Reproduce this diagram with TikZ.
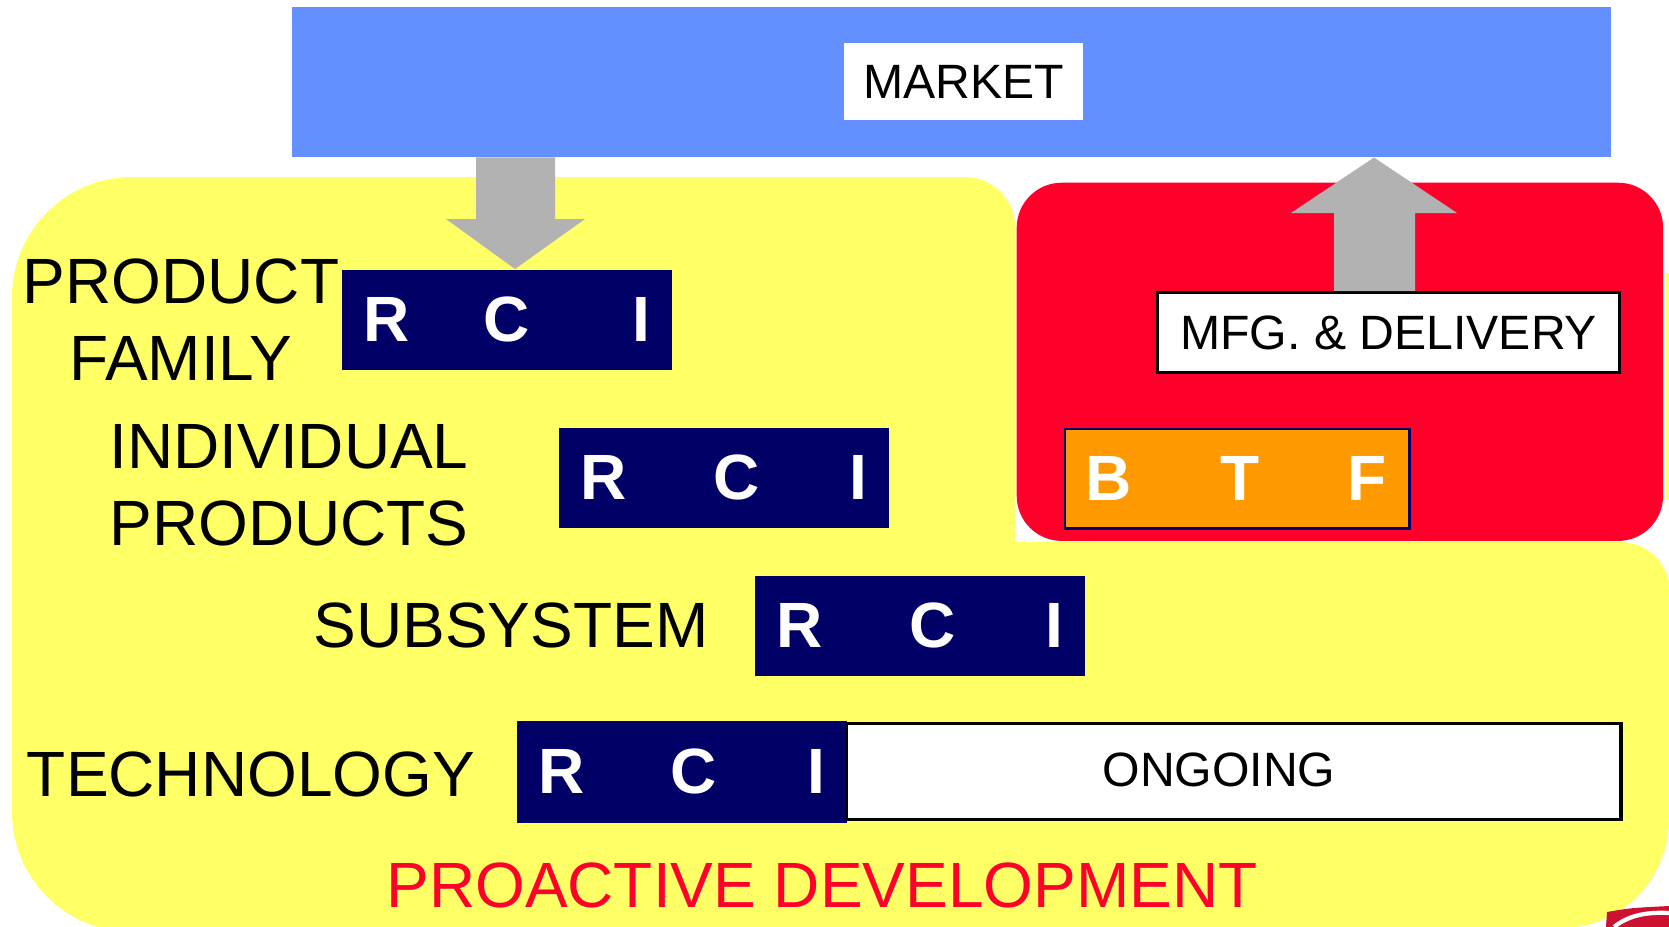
\documentclass[tikz,border=0pt]{standalone}
\usepackage{fontspec}
\setmainfont{Liberation Sans}

\definecolor{bandblue}{RGB}{100,143,255}
\definecolor{padyellow}{RGB}{255,255,102}
\definecolor{btfred}{RGB}{255,0,43}
\definecolor{rcinavy}{RGB}{0,0,102}
\definecolor{btforange}{RGB}{255,153,0}
\definecolor{arrowgrey}{RGB}{178,178,178}
\definecolor{logored}{RGB}{204,18,48}

\newcommand{\bigtext}{\fontsize{18.2}{22}\selectfont}
\newcommand{\smalltext}{\fontsize{13.7}{16}\selectfont}

\tikzset{
  lvltext/.style={font=\bigtext, anchor=base, inner sep=0pt},
  rcibox/.style={fill=rcinavy, minimum width=3.3cm, minimum height=1cm, inner sep=0pt, anchor=north west},
  rciletter/.style={text=white, font=\bigtext\bfseries, inner sep=0pt},
  whitebox/.style={fill=white, draw=black, line width=0.9pt, inner sep=0pt, anchor=north west, font=\smalltext},
  blockarrow/.style={fill=arrowgrey},
}

\begin{document}
\begin{tikzpicture}[x=0.01cm, y=-0.01cm]
                \useasboundingbox (0,0) rectangle (1669,927);
                \clip (0,0) rectangle (1669,927);

                % yellow pad
                \fill[padyellow, rounded corners=1.2cm] (12,177) rectangle (600,932);
                \fill[padyellow, rounded corners=0.5cm] (300,177) rectangle (1015,932);
                \fill[padyellow, rounded corners=0.5cm] (900,542) rectangle (1670,800);
                \fill[padyellow, rounded corners=1.08cm] (300,600) rectangle (1669,928);
                \fill[padyellow] (1666,273) rectangle (1680,500);

                \node[fill=btfred, rounded corners=0.45cm, minimum width=6.46cm, minimum height=3.58cm, anchor=north west, inner sep=0pt] (mfgzone) at (1016,182) {};

                \node[fill=bandblue, minimum width=13.19cm, minimum height=1.5cm, anchor=north west, inner sep=0pt] (band) at (291,6) {};
                \node[fill=white, minimum width=2.39cm, minimum height=0.77cm, font=\smalltext, inner sep=0pt] (market) at (963.5,81.5) {MARKET};

                \node[whitebox, minimum width=4.62cm, minimum height=0.8cm] (mfg) at (1156,291) {MFG. \& DELIVERY};

                \node[rcibox] (pf) at (341,269) {};
                \node[rcibox] (ip) at (558,427) {};
                \node[rcibox] (ss) at (754,575) {};
                \node[rcibox, minimum height=1.02cm] (tech) at (516,720) {};
                \node[whitebox, minimum width=7.74cm, minimum height=0.96cm] (ongoing) at (845,722) {};
                \node[font=\smalltext, anchor=base, inner sep=0pt] (ongoing-txt) at (1219,786) {ONGOING};

                \fill[blockarrow] (476,0 |- band.south) -- (476,219) -- (446,219) -- (515,0 |- pf.north) -- (585,219) -- (555,219) -- (555,0 |- band.south) -- cycle;
                \fill[blockarrow] (1334,0 |- mfg.north) -- (1334,213) -- (1291,213) -- (1374,0 |- band.south) -- (1457,213) -- (1415,213) -- (1415,0 |- mfg.north) -- cycle;

                \foreach \b/\c in {pf/1.66, ip/1.78, ss/1.78, tech/1.78} {
                    \node[rciletter] (\b-r) at ([xshift=0.455cm]\b.west) {R};
                    \node[rciletter] (\b-c) at ([xshift=\c cm]\b.west) {C};
                    \node[rciletter] (\b-i) at ([xshift=3.0cm]\b.west) {I};
                }

                \node[fill=btforange, draw=rcinavy, line width=0.7pt, minimum width=3.44cm, minimum height=0.99cm, anchor=north west, inner sep=0pt] (btf) at (1064,428) {};
                \node[rciletter] (btf-b) at ([xshift=0.45cm]btf.west) {B};
                \node[rciletter] (btf-t) at ([xshift=1.76cm]btf.west) {T};
                \node[rciletter] (btf-f) at ([xshift=3.03cm]btf.west) {F};

                \node[lvltext] (pf-top) at (181,303) {PRODUCT};
                \node[lvltext] (pf-bot) at (181,380) {FAMILY};
                \node[lvltext] (ip-top) at (289,468) {INDIVIDUAL};
                \node[lvltext] (ip-bot) at (289,545) {PRODUCTS};
                \node[lvltext] (ss-lbl) at (511,647) {SUBSYSTEM};
                \node[lvltext] (tech-lbl) at (251,796) {TECHNOLOGY};
                \node[lvltext, text=btfred] (proactive) at (822,907) {PROACTIVE DEVELOPMENT};

                % logo corner
                \fill[logored] (1606,927) -- (1607,912) .. controls (1630,908) .. (1669,906) -- (1669,927) -- cycle;
                \draw[white, line width=1.2pt] (1614,927) .. controls (1630,914) and (1650,912) .. (1669,913);
            \end{tikzpicture}
\end{document}
